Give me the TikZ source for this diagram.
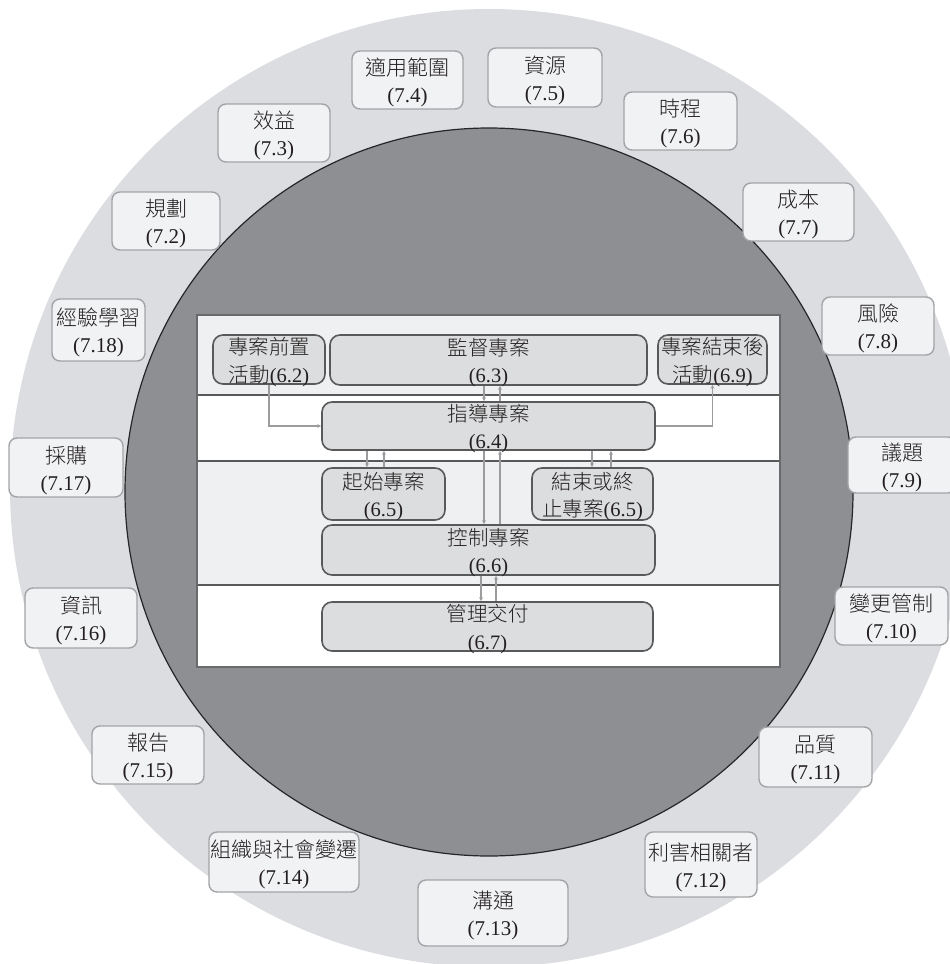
\documentclass[tikz,border=0pt]{standalone}
\usepackage{fontspec}
\setmainfont{Liberation Serif}
\IfFontExistsTF{Noto Sans CJK TC Light}
  {\newfontfamily\cjk{Noto Sans CJK TC Light}}
  {\newfontfamily\cjk{Noto Sans CJK TC}}
\usetikzlibrary{arrows.meta}
\definecolor{ringgray}{HTML}{DCDDE0}
\definecolor{coregray}{HTML}{8E8F93}
\definecolor{bandgray}{HTML}{EFF0F2}
\definecolor{boxfill}{HTML}{F1F2F4}
\definecolor{boxline}{HTML}{A3A4A7}
\definecolor{ibfill}{HTML}{DCDDDF}
\definecolor{ibline}{HTML}{58595B}
\definecolor{connc}{HTML}{9C9C9E}
\definecolor{txt}{HTML}{231F20}
\newcommand\obx[6]{%
  \node[obox, minimum width=#4pt, minimum height=#5pt] (#1) at (#2,#3) {};
  \node[otext] (#1-t) at (#2,#3+2.5) {#6};}
\newcommand\ibx[6]{%
  \node[ibox, minimum width=#4pt, minimum height=#5pt] (#1) at (#2,#3) {};
  \node[itext] (#1-t) at (#2,#3+2.5) {#6};}
\begin{document}
\begin{tikzpicture}[x=1pt,y=-1pt,
  obox/.style={draw=boxline, fill=boxfill, line width=1.4pt, rounded corners=8pt, inner sep=0pt},
  otext/.style={align=center, font=\fontsize{21}{27}\selectfont, text=txt, inner sep=0pt},
  ibox/.style={draw=ibline, fill=ibfill, line width=1.6pt, rounded corners=10pt, inner sep=0pt},
  itext/.style={align=center, font=\fontsize{20.5}{27.5}\selectfont, text=txt, inner sep=0pt},
  conn/.style={draw=connc, line width=1.1pt},
  arr/.style={conn, -{Stealth[length=4pt,width=4pt]}},
]
\useasboundingbox (0,0) rectangle (950,964);
\begin{scope}
\clip (0,0) rectangle (950,964);
% rings
\fill[ringgray] (489,488) circle[radius=479pt];
\filldraw[fill=coregray, draw=black!85, line width=1.2pt] (489,492) circle[radius=364pt];
% central panel
\fill[bandgray] (197,315) rectangle (780,395);
\fill[white] (197,395) rectangle (780,461);
\fill[bandgray] (197,461) rectangle (780,585);
\fill[white] (197,585) rectangle (780,667);
\draw[ibline, line width=1.5pt] (197,395) -- (780,395);
\draw[ibline, line width=1.5pt] (197,461) -- (780,461);
\draw[ibline, line width=1.5pt] (197,585) -- (780,585);
\draw[ibline!90, line width=2.6pt] (197,315) rectangle (780,667);

% outer theme boxes
\obx{t2}{166}{221}{108}{58}{{\cjk 規劃}\\(7.2)}
\obx{t3}{274}{133}{112}{58}{{\cjk 效益}\\(7.3)}
\obx{t4}{407.5}{80}{111}{58}{{\cjk 適用範圍}\\(7.4)}
\obx{t5}{545}{77.5}{114}{59}{{\cjk 資源}\\(7.5)}
\obx{t6}{680.5}{121}{113}{58}{{\cjk 時程}\\(7.6)}
\obx{t7}{798.5}{212}{111}{58}{{\cjk 成本}\\(7.7)}
\obx{t8}{878}{326}{112}{58}{{\cjk 風險}\\(7.8)}
\obx{t9}{902}{465}{108}{56}{{\cjk 議題}\\(7.9)}
\obx{t10}{891.5}{616}{113}{58}{{\cjk 變更管制}\\(7.10)}
\obx{t11}{815.5}{757}{113}{60}{{\cjk 品質}\\(7.11)}
\obx{t12}{701}{864.5}{112}{65}{{\cjk 利害相關者}\\(7.12)}
\obx{t13}{493}{913}{150}{66}{{\cjk 溝通}\\(7.13)}
\obx{t14}{284}{862}{150}{60}{{\cjk 組織與社會變遷}\\(7.14)}
\obx{t15}{148}{755}{112}{58}{{\cjk 報告}\\(7.15)}
\obx{t16}{81}{618}{112}{60}{{\cjk 資訊}\\(7.16)}
\obx{t17}{66}{467.5}{114}{59}{{\cjk 採購}\\(7.17)}
\obx{t18}{98.5}{330}{93}{62}{{\cjk 經驗學習}\\(7.18)}

% process boxes
\ibx{pre}{269}{359.5}{112}{49}{{\cjk 專案前置}\\{\cjk 活動}(6.2)}
\ibx{sup}{488.5}{360}{317}{50}{{\cjk 監督專案}\\(6.3)}
\ibx{post}{712.5}{359.5}{109}{49}{{\cjk 專案結束後}\\{\cjk 活動}(6.9)}
\ibx{dir}{488.5}{426}{333}{48}{{\cjk 指導專案}\\(6.4)}
\ibx{start}{383.5}{494}{123}{52}{{\cjk 起始專案}\\(6.5)}
\ibx{close}{592.5}{494}{121}{52}{{\cjk 結束或終}\\{\cjk 止專案}(6.5)}
\ibx{ctrl}{488.5}{550}{333}{50}{{\cjk 控制專案}\\(6.6)}
\ibx{deliv}{487.5}{626.5}{331}{49}{{\cjk 管理交付}\\(6.7)}

% connector columns
\coordinate (xa) at (484,0);
\coordinate (xb) at (500,0);
\coordinate (xc) at (367,0);
\coordinate (xd) at (384,0);
\coordinate (xe) at (592,0);
\coordinate (xf) at (611,0);
\coordinate (xg) at (481,0);
\coordinate (xh) at (496,0);

\draw[arr] (pre.south) |- (dir.west);
\draw[arr] (dir.east) -| (post.south);
\draw[arr] (sup.south -| xa) -- (dir.north -| xa);
\draw[arr] (dir.north -| xb) -- (sup.south -| xb);
\draw[arr] (dir.south -| xc) -- (start.north -| xc);
\draw[arr] (start.north -| xd) -- (dir.south -| xd);
\draw[arr] (dir.south -| xe) -- (close.north -| xe);
\draw[arr] (close.north -| xf) -- (dir.south -| xf);
\draw[arr] (dir.south -| xa) -- (ctrl.north -| xa);
\draw[arr] (ctrl.north -| xb) -- (dir.south -| xb);
\draw[arr] (ctrl.south -| xg) -- (deliv.north -| xg);
\draw[arr] (deliv.north -| xh) -- (ctrl.south -| xh);
\end{scope}
\end{tikzpicture}
\end{document}
